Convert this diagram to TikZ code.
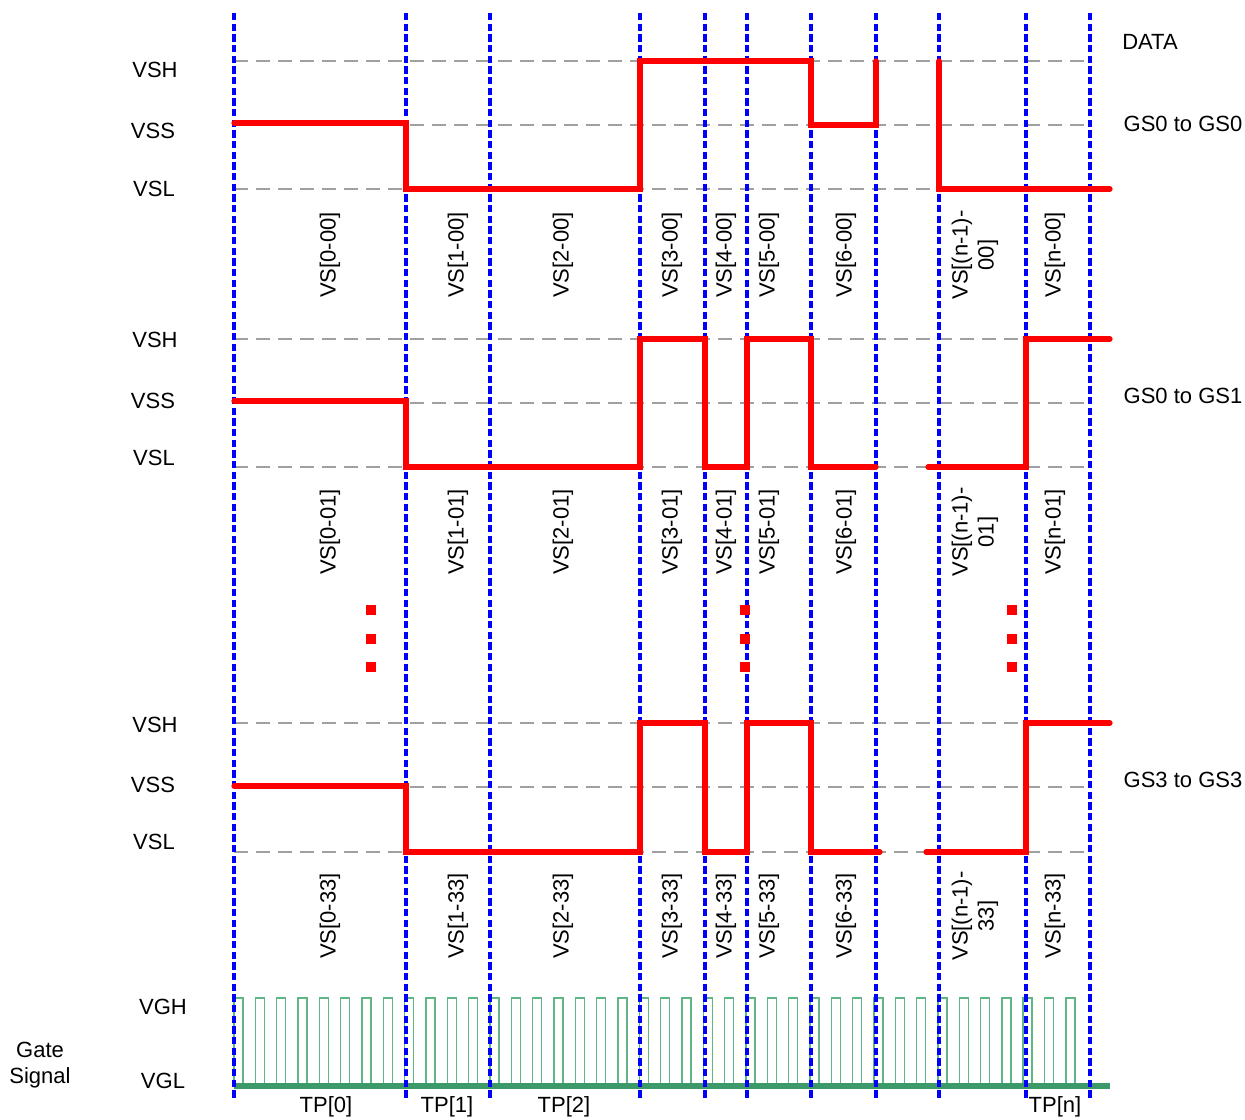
\documentclass[tikz,border=0pt]{standalone}
\usepackage{fontspec}
\setmainfont{Liberation Sans}

\definecolor{levelgray}{HTML}{A0A0A0}
\definecolor{gateline}{HTML}{3C9A6A}
\definecolor{gatepulse}{HTML}{5FB585}

\tikzset{
  level/.style={draw=levelgray, line width=2.2pt, dash pattern=on 10.5pt off 6pt},
  phase/.style={draw=blue, line width=2.3pt, dash pattern=on 5.4pt off 2.6pt},
  wave/.style={draw=red, line width=3.9pt, line cap=round, line join=miter},
  pulse/.style={draw=gatepulse, line width=1.1pt},
  vslabel/.style={rotate=90, align=center, inner sep=0pt},
  dotmark/.style={fill=red, minimum size=6.8pt, inner sep=0pt}
}

\begin{document}
\begin{tikzpicture}[x=0.75pt,y=-0.75pt, font=\fontsize{16.5}{19.5}\selectfont]

\useasboundingbox (0,0) rectangle (1245,1120);

% voltage levels
\foreach \y in {61,125,189, 339,403,467, 723,787,852}
  \draw[level] (234,\y) -- (1090,\y);

\node (vsha) at (155,70) {VSH};
\node (vssa) at (153,131) {VSS};
\node (vsla) at (154,189) {VSL};
\node (vshb) at (155,340) {VSH};
\node (vssb) at (153,401) {VSS};
\node (vslb) at (154,458) {VSL};
\node (vshc) at (155,725) {VSH};
\node (vssc) at (153,785) {VSS};
\node (vslc) at (154,842) {VSL};

\node (data) at (1150,42) {DATA};
\node (gsa) at (1183,124) {GS0 to GS0};
\node (gsb) at (1183,396) {GS0 to GS1};
\node (gsc) at (1183,780) {GS3 to GS3};

% gate signal
\foreach \i in {0,...,39}
  \draw[pulse] ({234+21.33*\i},1086) |- ++(9,-88) -- ++(0,88);
\draw[draw=gateline, line width=3.9pt] (234,1086) -- (1110,1086);

\node (vgh) at (163,1007) {VGH};
\node (vgl) at (163,1081) {VGL};
\node[align=center] (gate) at (40,1065) {Gate\\Signal};

% phase boundaries
\foreach \x in {234,406,490,640,705,747,811,876,939,1026,1090}
  \draw[phase] (\x,13) -- (\x,1099);

% waveforms
\draw[wave] (234,123) -| (406,189) -| (640,61) -| (811,125) -| (876,61);
\draw[wave] (939,61) |- (1110,189);

\draw[wave] (234,401) -| (406,467) -| (640,339) -| (705,467) -| (747,339) -| (811,467) -- (876,467);
\draw[wave] (928,467) -| (1026,339) -- (1110,339);

\draw[wave] (234,786) -| (406,852) -| (640,723) -| (705,852) -| (747,723) -| (811,852) -- (880,852);
\draw[wave] (926,852) -| (1026,723) -- (1110,723);

% voltage source labels
\foreach \x/\t in {330/0,458/1,563/2,672/3,726/4,769/5,846/6,1055/n} {
  \node[vslabel] (va\t) at (\x,255) {VS[\t-00]};
  \node[vslabel] (vb\t) at (\x,532) {VS[\t-01]};
  \node[vslabel] (vc\t) at (\x,916) {VS[\t-33]};
}
\node[vslabel] (vam) at (975,255) {VS[(n-1)-\\00]};
\node[vslabel] (vbm) at (975,532) {VS[(n-1)-\\01]};
\node[vslabel] (vcm) at (975,916) {VS[(n-1)-\\33]};

% continuation dots
\foreach \x in {371,745,1012}
  \foreach \y in {610,639,667}
    \node[dotmark] at (\x,\y) {};

\node (tpa) at (326,1107) {TP[0]};
\node (tpb) at (447,1107) {TP[1]};
\node (tpc) at (564,1107) {TP[2]};
\node (tpn) at (1055,1107) {TP[n]};

\end{tikzpicture}
\end{document}
